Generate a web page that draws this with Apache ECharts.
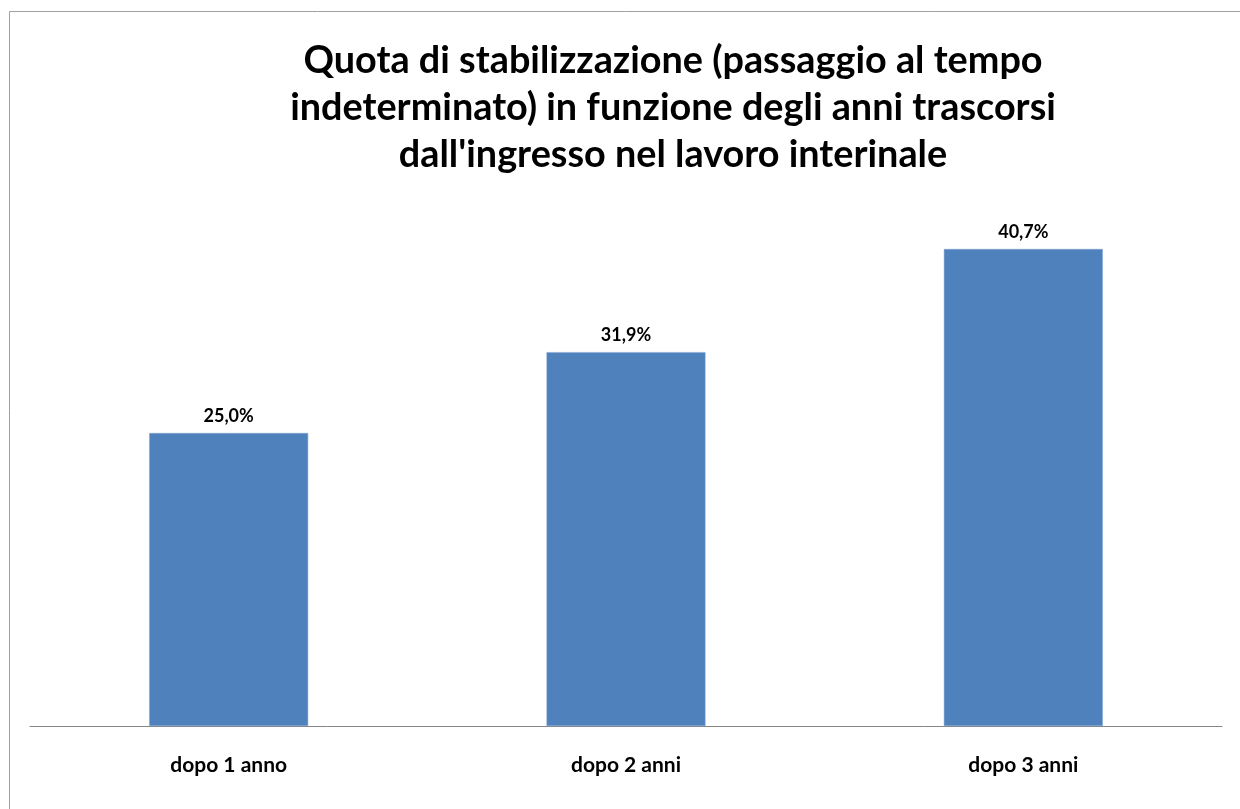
<!DOCTYPE html>
<html><head><meta charset="utf-8">
<script src="https://cdn.jsdelivr.net/npm/echarts@6/dist/echarts.min.js"></script>
<style>html,body{margin:0;padding:0;background:#fff}#c{width:1240px;height:809px}</style>
</head><body><div id="c"></div>
<script>
const categories = ['dopo 1 anno', 'dopo 2 anni', 'dopo 3 anni'];
const values = [25.0, 31.9, 40.7];
const titleText = 'Quota di stabilizzazione (passaggio al tempo\nindeterminato) in funzione degli anni trascorsi\ndall\'ingresso nel lavoro interinale';

const chart = echarts.init(document.getElementById('c'), null, {renderer: 'canvas'});
chart.setOption({
  backgroundColor: '#fff',
  animation: false,
  graphic: [{
    type: 'rect', shape: {x: 9.5, y: 11.5, width: 1240, height: 809},
    style: {fill: 'none', stroke: '#a0a0a0', lineWidth: 1}, silent: true
  }],
  title: {
    text: titleText, left: 668, top: 32, textAlign: 'center',
    textStyle: {fontFamily: 'Lato', fontWeight: 'bold', fontSize: 37.8, lineHeight: 47, color: '#000'}
  },
  grid: {left: 30, right: 18, top: 198.6, bottom: 83, containLabel: false},
  xAxis: {
    type: 'category', data: categories,
    axisLine: {lineStyle: {color: '#868686', width: 1}},
    axisTick: {show: false},
    axisLabel: {margin: 29, fontFamily: 'Lato', fontWeight: 'bold', fontSize: 21, color: '#000'}
  },
  yAxis: {type: 'value', min: 0, max: 45, show: false, splitLine: {show: false}},
  series: [{
    type: 'bar', data: values, barWidth: '40%',
    itemStyle: {color: '#4F81BD', borderColor: '#7FA3D3', borderWidth: 0.5},
    label: {show: true, position: 'top', distance: 8, fontFamily: 'Lato', fontWeight: 'bold', fontSize: 18, color: '#000',
      formatter: p => p.value.toFixed(1).replace('.', ',') + '%'}
  }]
});
</script></body></html>
